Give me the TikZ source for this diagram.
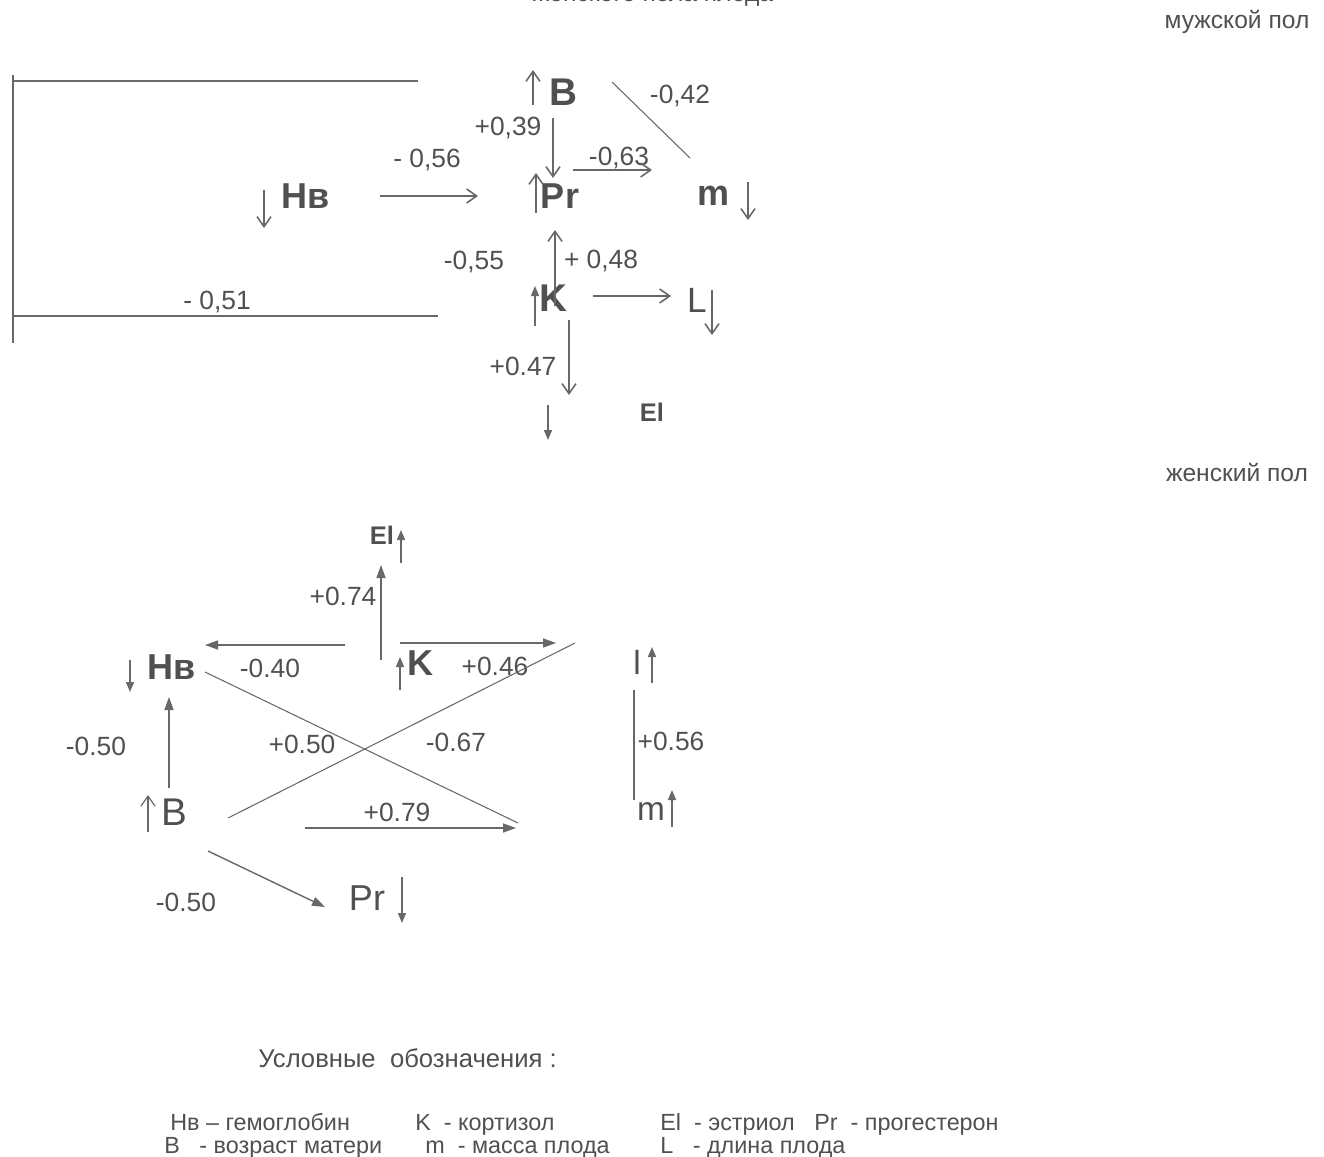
\documentclass[tikz,border=0pt]{standalone}
\usepackage{fontspec}
\setmainfont{Liberation Sans}
\usetikzlibrary{calc, arrows.meta}
\definecolor{inkgray}{HTML}{505050}
\definecolor{linegray}{HTML}{686868}
\tikzset{
	varnode/.style={
			inner sep=0pt,
			text=inkgray,
			font=\fontsize{20.5}{22}\selectfont\bfseries
		},
	varnodebig/.style={
			varnode,
			font=\fontsize{22}{24}\selectfont\bfseries
		},
	varnodetiny/.style={
			varnode,
			font=\fontsize{14.5}{16}\selectfont\bfseries
		},
	varnodeplain/.style={
			varnode,
			font=\fontsize{20}{22}\selectfont
		},
	coefnode/.style={
			inner sep=0pt,
			text=inkgray,
			font=\fontsize{15}{17}\selectfont
		},
	legendtext/.style={
			inner sep=0pt,
			anchor=base west,
			text=inkgray,
			font=\fontsize{13.3}{15}\selectfont
		},
	openarrow/.style={
			draw=linegray,
			line width=0.9pt,
			-{Straight Barb[length=2mm, width=2.8mm]}
		},
	fillarrow/.style={
			draw=linegray,
			line width=0.8pt,
			-{Triangle[length=2.6mm, width=1.8mm]}
		},
	fillarrowsmall/.style={
			draw=linegray,
			line width=0.8pt,
			-{Triangle[length=2mm, width=1.6mm]}
		},
	plainline/.style={
			draw=linegray,
			line width=0.6pt
		},
	bracketline/.style={
			draw=linegray,
			line width=1.2pt
		}
}

\begin{document}
\begin{tikzpicture}[x=0.02cm, y=-0.02cm]

  \useasboundingbox (0,0) rectangle (1324,1156);

  \node[coefnode, anchor=base, font=\fontsize{14}{16}\selectfont] (title) at (653,2) {женского пола плода};
  \node[coefnode, font=\fontsize{14}{16}\selectfont] (male) at (1237,22) {мужской пол};
  \node[coefnode, font=\fontsize{14}{16}\selectfont] (female) at (1237,472) {женский пол};

  % male
  \node[varnode] (tHb) at (306,196) {Нв};
  \node[varnodebig] (tB) at (563,92) {B};
  \node[varnode] (tPr) at (560,196) {Pr};
  \node[varnode] (tm) at (714,196) {m};
  \node[varnodebig] (tK) at (553,298) {K};
  \node[varnodeplain] (tL) at (697,300) {L};
  \node[varnodetiny] (tEl) at (652,412) {El};

  \coordinate (brTop) at (418,81);
  \coordinate (brBot) at (438,316);
  \draw[bracketline] (brTop) -- (12,81);
  \draw[bracketline] (13,75) -- (13,343);
  \draw[bracketline] (13,316) -- (brBot);

  \node[coefnode] (c1) at (217,302) {- 0,51};
  \node[coefnode] (c2) at (427,160) {- 0,56};
  \node[coefnode] (c3) at (508,128) {+0,39};
  \node[coefnode] (c4) at (680,96) {-0,42};
  \node[coefnode] (c5) at (619,158) {-0,63};
  \node[coefnode] (c6) at (474,262) {-0,55};
  \node[coefnode] (c7) at (601,261) {+ 0,48};
  \node[coefnode] (c8) at (523,366) {+0.47};

  \draw[openarrow, shorten <=14.8mm, shorten >=16.4mm] (tHb.center) -- (tPr.center);
  \draw[openarrow] ($(tB)+(-10,26)$) -- ($(tPr)+(-7,-18)$);
  \draw[openarrow] ($(tPr)+(13,-26)$) -- ($(tm)+(-62,-26)$);
  \draw[plainline] ($(tB)+(49,-10)$) -- ($(tm)+(-24,-38)$);
  \draw[openarrow] ($(tK)+(2,8)$) -- ($(tPr)+(-5,34)$);
  \draw[openarrow] ($(tK)+(40,-2)$) -- ($(tL)+(-26,-4)$);
  \draw[openarrow] ($(tK)+(16,22)$) -- ($(tEl)+(-83,-17)$);

  \draw[openarrow] ($(tHb)+(-42,-6)$) -- ++(0,38);
  \draw[openarrow] ($(tB)+(-30,13)$) -- ++(0,-35);
  \draw[openarrow] ($(tPr)+(-24,17)$) -- ++(0,-40);
  \draw[openarrow] ($(tm)+(34,-14)$) -- ++(0,38);
  \draw[fillarrowsmall] ($(tK)+(-18,28)$) -- ++(0,-40);
  \draw[openarrow] ($(tL)+(15,-10)$) -- ++(0,45);
  \draw[fillarrowsmall] ($(tEl)+(-104,-7)$) -- ++(0,35);

  % female
  \node[varnodetiny] (bEl) at (382,535) {El};
  \node[varnode] (bHb) at (172,667) {Нв};
  \node[varnode] (bK) at (420,663) {K};
  \node[varnodeplain, font=\fontsize{19}{21}\selectfont] (bl) at (637,662) {l};
  \node[varnodeplain, font=\fontsize{22}{24}\selectfont] (bB) at (174,812) {B};
  \node[varnodeplain, font=\fontsize{19}{21}\selectfont] (bm) at (651,812) {m};
  \node[varnodeplain, font=\fontsize{20.5}{22}\selectfont] (bPr) at (367,898) {Pr};

  \node[coefnode] (d1) at (343,596) {+0.74};
  \node[coefnode] (d2) at (270,668) {-0.40};
  \node[coefnode] (d3) at (495,666) {+0.46};
  \node[coefnode] (d4) at (96,746) {-0.50};
  \node[coefnode] (d5) at (302,744) {+0.50};
  \node[coefnode] (d6) at (456,742) {-0.67};
  \node[coefnode] (d7) at (397,812) {+0.79};
  \node[coefnode] (d8) at (671,741) {+0.56};
  \node[coefnode] (d9) at (186,902) {-0.50};

  \draw[fillarrow] ($(bK)+(-39,-3)$) -- ($(bEl)+(-1,30)$);
  \draw[fillarrow] ($(bK)+(-75,-18)$) -- ($(bHb)+(33,-22)$);
  \draw[fillarrow] ($(bK)+(-20,-20)$) -- ($(bl)+(-81,-19)$);
  \draw[plainline] ($(bHb)+(33,5)$) -- ($(bm)+(-133,11)$);
  \draw[plainline] ($(bB)+(54,6)$) -- ($(bl)+(-62,-19)$);
  \draw[fillarrow] ($(bB)+(131,16)$) -- ($(bm)+(-135,16)$);
  \draw[fillarrow] ($(bB)+(-5,-24)$) -- ($(bHb)+(-3,30)$);
  \draw[fillarrow] ($(bB)+(34,39)$) -- ($(bPr)+(-42,9)$);
  \draw[plainline, line width=0.9pt] ($(bl)+(-3,28)$) -- ($(bm)+(-17,-12)$);

  \draw[fillarrowsmall] ($(bEl)+(19,28)$) -- ++(0,-33);
  \draw[fillarrowsmall] ($(bHb)+(-42,-7)$) -- ++(0,32);
  \draw[fillarrowsmall] ($(bK)+(-20,27)$) -- ++(0,-33);
  \draw[fillarrowsmall] ($(bl)+(15,21)$) -- ++(0,-36);
  \draw[fillarrowsmall] ($(bm)+(21,15)$) -- ++(0,-37);
  \draw[openarrow, line width=0.7pt] ($(bB)+(-26,20)$) -- ++(0,-37);
  \draw[fillarrowsmall] ($(bPr)+(35,-21)$) -- ++(0,46);

  % legend
  \node[coefnode, anchor=west, font=\fontsize{14.6}{16}\selectfont] (legtitle) at (258,1058) {Условные\ \ обозначения :};
  \node[legendtext] (lg1) at (170,1130) {Нв – гемоглобин};
  \node[legendtext] (lg2) at (415,1130) {K\ \ - кортизол};
  \node[legendtext] (lg3) at (660,1130) {El\ \ - эстриол\ \ \ Pr\ \ - прогестерон};
  \node[legendtext] (lg4) at (164,1153) {B\ \ \ - возраст матери};
  \node[legendtext] (lg5) at (425,1153) {m\ \ - масса плода};
  \node[legendtext] (lg6) at (660,1153) {L\ \ \ - длина плода};

\end{tikzpicture}
\end{document}
